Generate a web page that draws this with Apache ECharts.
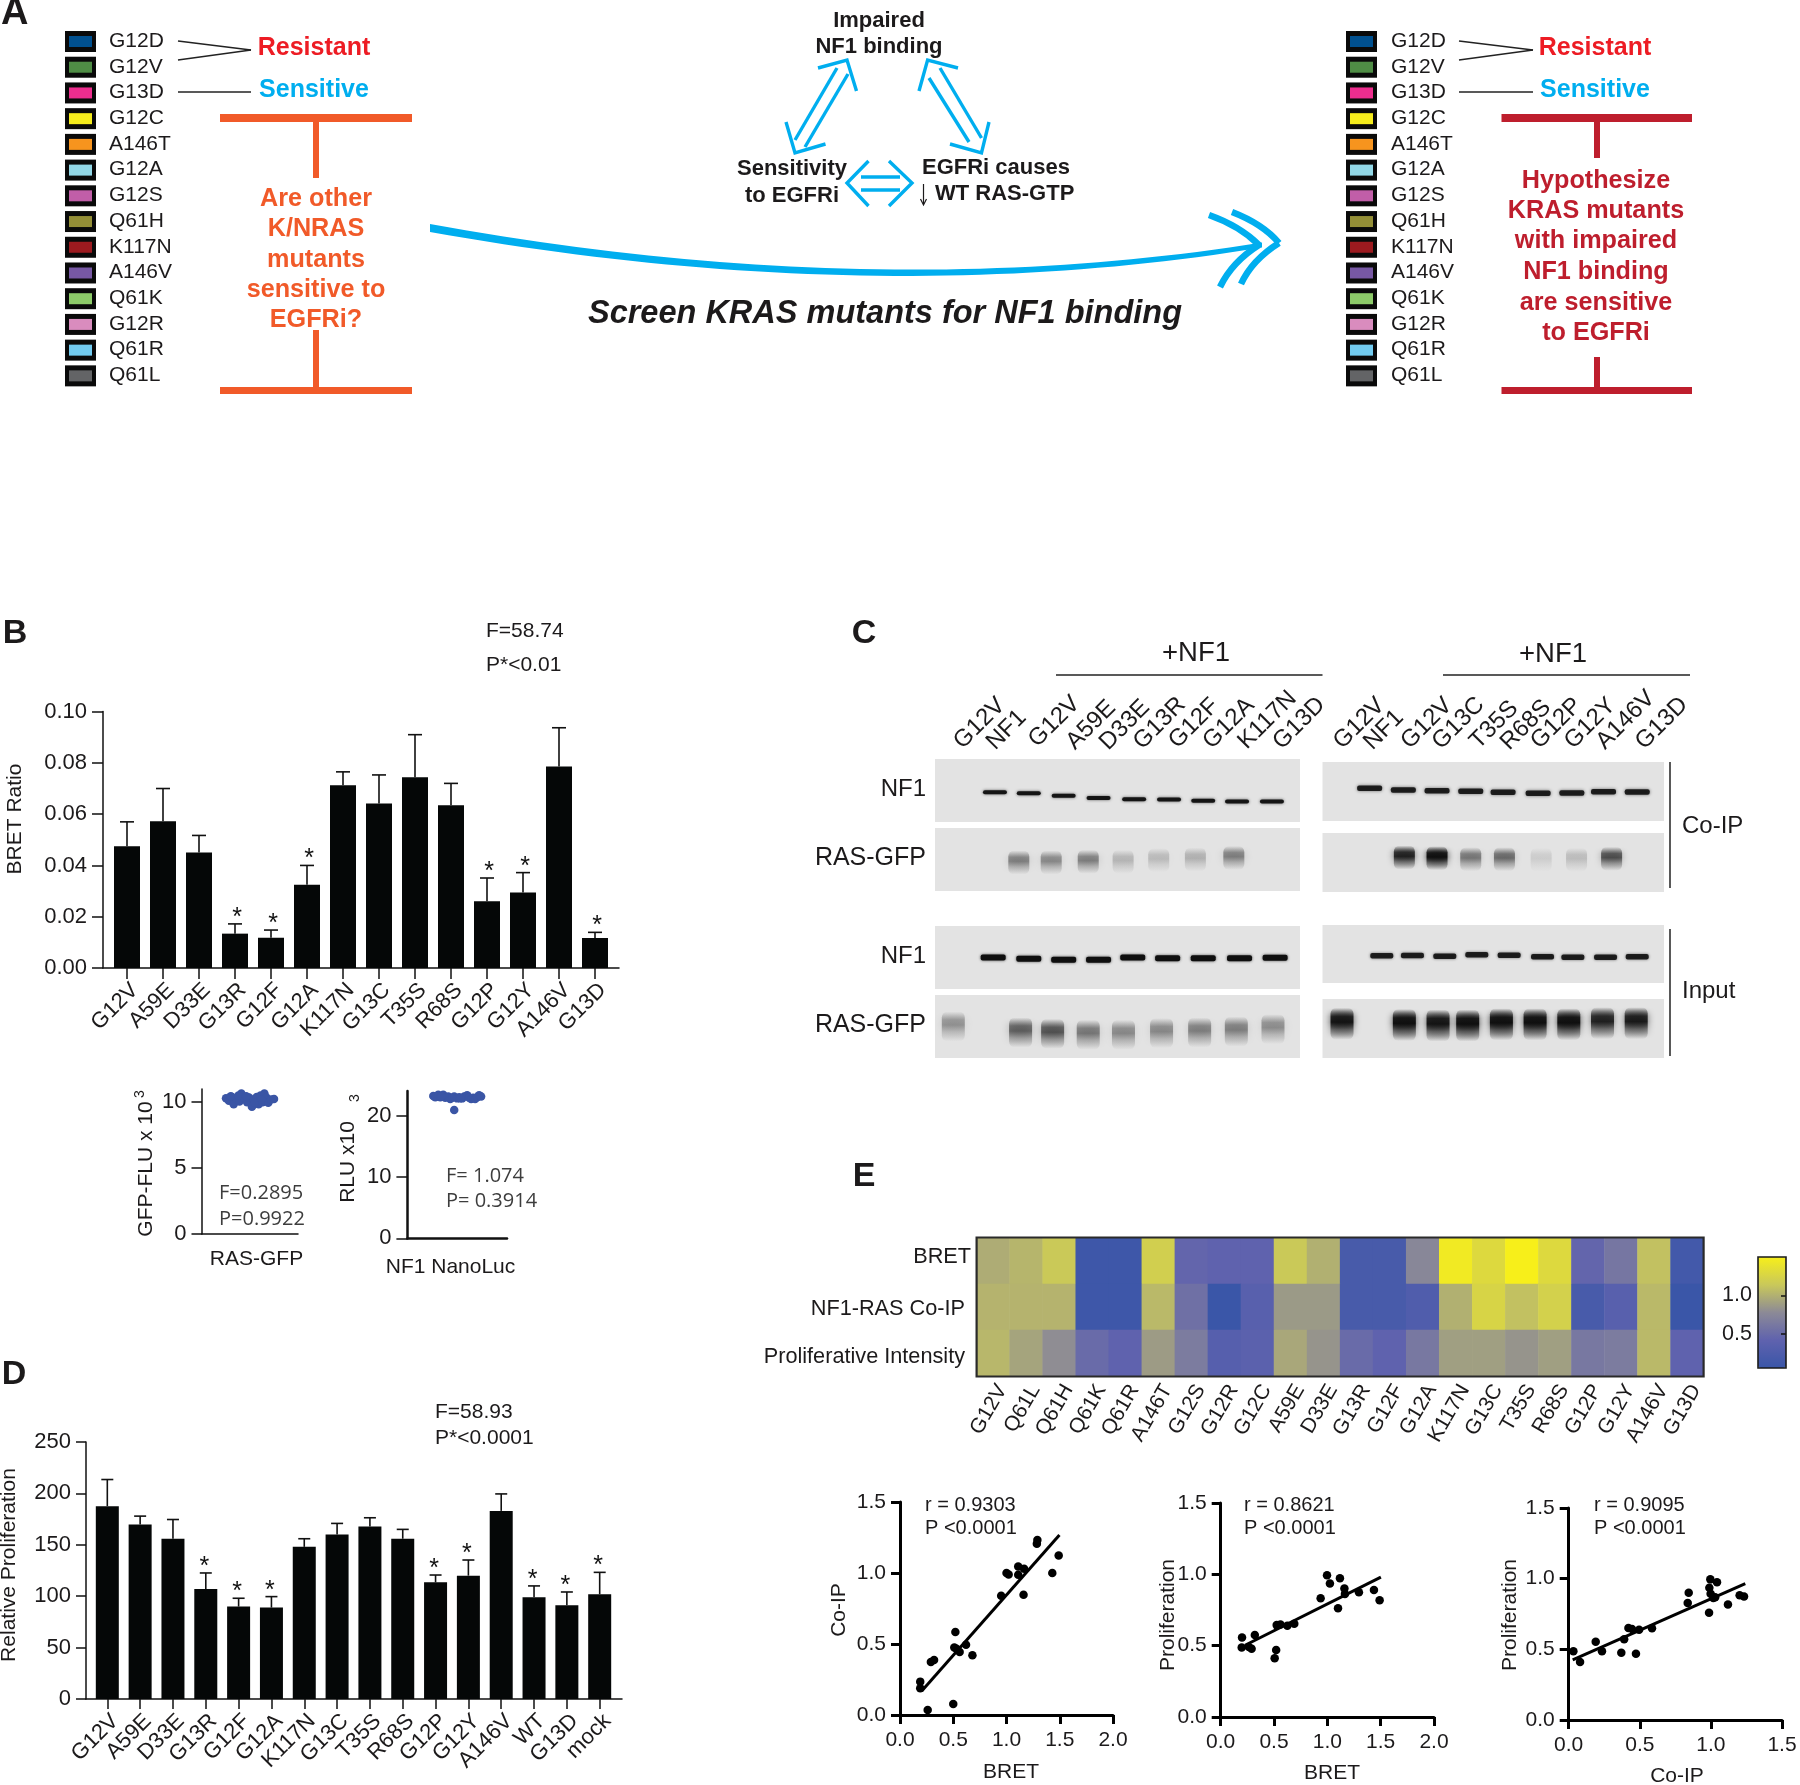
<!DOCTYPE html>
<html><head><meta charset="utf-8">
<script src="https://cdn.jsdelivr.net/npm/echarts@6/dist/echarts.min.js"></script>
<style>html,body{margin:0;padding:0;background:#fff}#c{width:1800px;height:1785px}</style>
</head><body><div id="c"></div>
<script>
// ---------- DATA ----------
const mutantNames=['G12D','G12V','G13D','G12C','A146T','G12A','G12S','Q61H','K117N','A146V','Q61K','G12R','Q61R','Q61L'];
const mutantColors=['#00508f','#4f8d45','#ee2d8e','#f5ec1c','#f7941e','#92d7e6','#c15ea8','#948f37','#9c1a1f','#7758a4','#8dcb69','#d98cbe','#72cbf0','#636466'];
const orangeLines=['Are other','K/NRAS','mutants','sensitive to','EGFRi?'];
const redLines=['Hypothesize','KRAS mutants','with impaired','NF1 binding','are sensitive','to EGFRi'];

const bretCats=['G12V','A59E','D33E','G13R','G12F','G12A','K117N','G13C','T35S','R68S','G12P','G12Y','A146V','G13D'];
const bretMean=[.0475,.0572,.045,.0134,.0118,.0325,.0713,.0642,.0744,.0635,.026,.0294,.0786,.0117];
const bretTop=[.057,.070,.0517,.0172,.0148,.040,.0765,.0753,.091,.072,.0351,.0372,.0937,.0139];
const bretStar=[0,0,0,1,1,1,0,0,0,0,1,1,0,1];

const gfpX=[25,28,31,33,36,39,41,44,47,49,52,54,57,59,61,63,65,67,69,72,75,30,38,46,55,62];
const gfpY=[10.3,10.1,10.4,9.85,10.25,10.05,10.65,10.3,10.0,10.35,9.65,10.2,10.4,9.85,10.5,10.0,10.65,10.35,9.95,10.2,10.25,10.45,10.5,10.45,9.95,10.2];
const nanoX=[26,28,31,33,36,38,41,43,45,47,47,50,52,55,57,60,62,64,66,68,70,72,74,34,53];
const nanoY=[23.2,23.0,23.4,23.0,23.4,22.9,23.1,22.7,22.9,23.1,20.9,22.8,23.0,22.8,23.1,23.3,22.9,22.7,22.9,22.7,23.0,23.3,23.1,23.1,22.8];

const prolifCats=['G12V','A59E','D33E','G13R','G12F','G12A','K117N','G13C','T35S','R68S','G12P','G12Y','A146V','WT','G13D','mock'];
const prolifMean=[187.6,169.8,155.9,107,89.9,88.9,148,160,167.9,155.9,113.5,120,183,99,91.2,101.9];
const prolifTop=[213.5,177.9,174.6,122.6,98,99.6,155.9,170.8,176.3,165,120.6,135.2,199.5,110,104.1,123.2];
const prolifStar=[0,0,0,1,1,1,0,0,0,0,1,1,0,1,1,1];

const heatCols=['G12V','Q61L','Q61H','Q61K','Q61R','A146T','G12S','G12R','G12C','A59E','D33E','G13R','G12F','G12A','K117N','G13C','T35S','R68S','G12P','G12Y','A146V','G13D'];
const heatRows=['BRET','NF1-RAS Co-IP','Proliferative Intensity'];
const heatBret=[.98,1.03,1.15,.1,.1,1.2,.45,.42,.42,1.15,1.0,.2,.2,.75,1.45,1.3,1.5,1.3,.45,.6,1.1,.15];
const heatCoip=[1.02,1.02,1.02,.1,.1,1.05,.55,.05,.35,.87,.87,.2,.2,.27,1.0,1.25,1.1,1.22,.2,.35,1.05,.05];
const heatProl=[1.04,.93,.8,.5,.42,.88,.65,.33,.38,.95,.84,.5,.42,.62,.9,.9,.84,.9,.62,.65,1.05,.42];

const s1X=[.19,.19,.26,.29,.32,.5,.52,.51,.53,.56,.62,.68,.95,1.0,1.02,1.11,1.11,1.165,1.16,1.285,1.29,1.43,1.49];
const s1Y=[.235,.188,.035,.374,.388,.078,.585,.475,.466,.444,.494,.42,.84,1.0,.99,1.046,.988,1.03,.846,1.206,1.232,1.0,1.124];
const s1Fit=[[.204,.169],[1.497,1.267]];
const s2X=[.2,.197,.265,.29,.32,.506,.52,.525,.56,.625,.69,.937,.997,1.024,1.118,1.10,1.16,1.165,1.296,1.437,1.49];
const s2Y=[.557,.487,.49,.478,.574,.412,.47,.644,.649,.639,.653,.832,.993,.935,.972,.762,.90,.862,.874,.89,.818];
const s2Fit=[[.228,.503],[1.502,.981]];
const s3X=[.033,.08,.19,.234,.37,.39,.42,.445,.473,.495,.586,.837,.844,.987,.996,.989,.998,1.017,1.043,1.03,1.12,1.202,1.233];
const s3Y=[.486,.41,.554,.486,.476,.571,.651,.644,.469,.639,.649,.828,.901,.759,.995,.936,.894,.863,.974,.868,.818,.882,.873];
const s3Fit=[[.028,.425],[1.242,.965]];

// blot bands: [lane, vertical position in panel 0-1, ink 0-1]
const blotLeftNf1Ip=[[1.17,.526,.95],[2.12,.542,.95],[3.1,.584,.95],[4.08,.621,.95],[5.08,.637,.95],[6.06,.642,.95],[7.02,.663,.95],[7.97,.674,.95],[8.95,.674,.95]];
const blotLeftRasIp=[[1.84,.547,.42],[2.75,.547,.38],[3.79,.537,.42],[4.77,.537,.2],[5.77,.51,.18],[6.8,.5,.22],[7.88,.475,.42]];
const blotLeftNf1In=[[1.12,.5,1],[2.12,.52,1],[3.1,.537,1],[4.08,.537,1],[5.04,.5,1],[6.02,.51,1],[7.02,.51,1],[8.04,.51,1],[9.04,.505,1]];
const blotLeftRasIn=[[0,.5,.34],[1.89,.595,.55],[2.79,.616,.6],[3.79,.632,.45],[4.78,.632,.38],[5.85,.605,.38],[6.92,.595,.42],[7.95,.58,.42],[8.98,.542,.36]];
const blotRightNf1Ip=[[.82,.446,.9],[1.82,.474,.9],[2.82,.486,.9],[3.82,.497,.9],[4.78,.514,.9],[5.82,.531,.9],[6.82,.526,.9],[7.76,.503,.9],[8.76,.509,.9]];
const blotRightRasIp=[[1.85,.416,.85],[2.82,.427,1],[3.82,.444,.45],[4.82,.444,.5],[5.91,.455,.1],[6.96,.455,.17],[8,.438,.62]];
const blotRightNf1In=[[1.18,.531,.9],[2.09,.526,.9],[3.05,.537,.9],[4,.514,.9],[4.96,.52,.9],[5.95,.549,.9],[6.85,.554,.9],[7.82,.554,.9],[8.76,.549,.9]];
const blotRightRasIn=[[0,.42,.95],[1.85,.44,1],[2.85,.45,.95],[3.73,.45,1],[4.73,.43,1],[5.73,.43,1],[6.73,.43,1],[7.73,.41,.85],[8.73,.41,.9]];
const blotLabelsLeft=['G12V','NF1','G12V','A59E','D33E','G13R','G12F','G12A','K117N','G13D'];
const blotLabelsRight=['G12V','NF1','G12V','G13C','T35S','R68S','G12P','G12Y','A146V','G13D'];

// ---------- HELPERS ----------
const FF='"Liberation Sans"',INK='#1c1a1b',BLUE='#00aeef';
const g=[],grid=[],xAxis=[],yAxis=[],series=[];
function T(x,y,text,size,o={}){g.push({type:'text',x,y,rotation:o.rot||0,silent:true,z:o.z||50,style:{text,
  font:`${o.bold?'bold ':''}${o.italic?'italic ':''}${size}px ${o.ff||FF}`,fill:o.fill||INK,textAlign:o.align||'left',textVerticalAlign:'middle'}});}
function L(x1,y1,x2,y2,c,w){g.push({type:'line',silent:true,z:40,shape:{x1,y1,x2,y2},style:{stroke:c,lineWidth:w}});}
function R(x,y,w,h,c,st){g.push({type:'rect',silent:true,z:st?60:40,shape:{x,y,width:w,height:h},style:st?{fill:'none',stroke:c,lineWidth:st}:{fill:c}});}
function Pl(pts,c,w){g.push({type:'polyline',silent:true,z:40,shape:{points:pts},style:{stroke:c,lineWidth:w,fill:'none'}});}
function Q(a,c,b,col,w){g.push({type:'bezierCurve',silent:true,z:40,shape:{x1:a[0],y1:a[1],cpx1:c[0],cpy1:c[1],x2:b[0],y2:b[1]},style:{stroke:col,lineWidth:w,fill:'none'}});}
function taper(a,c,b,w0,w1,col){const top=[],bot=[];for(let i=0;i<=48;i++){const t=i/48,u=1-t;
  const x=u*u*a[0]+2*u*t*c[0]+t*t*b[0],y=u*u*a[1]+2*u*t*c[1]+t*t*b[1],h=(w0+(w1-w0)*t)/2;top.push([x,y-h]);bot.unshift([x,y+h]);}
  g.push({type:'polygon',silent:true,z:40,shape:{points:top.concat(bot)},style:{fill:col}});}
function addGrid(l,t,w,h,extra){grid.push(Object.assign({left:l,top:t,width:w,height:h,show:false},extra||{}));return grid.length-1;}

// Panel A legends
function legend(xs,xt,xl1,xl2,xr){
  mutantNames.forEach((n,i)=>{const y=31+i*25.72;
    R(xs,y,31,21,'#0a0a0a');R(xs+4,y+5,23,11,mutantColors[i]);T(xt,y+10,n,21);});
  L(xl1,41,xl2,50,'#222',1.6);L(xl1,60,xl2,50,'#222',1.6);L(xl1,92,xl2,92,'#222',1.6);
  T(xr,48,'Resistant',25,{bold:true,fill:'#ed1c24',align:'center'});
  T(xr,90,'Sensitive',25,{bold:true,fill:BLUE,align:'center'});
}
legend(65,109,178,251,314);
legend(1346,1391,1459,1533,1595);
function tee(x1,x2,xc,c,v1,v2){R(x1,114,x2-x1,8,c);R(xc-3,122,6,v1-122,c);R(xc-3,v2,6,387-v2,c);R(x1,387,x2-x1,7,c);}
tee(220,412,316,'#f15a29',178,330);
tee(1501.5,1692,1597,'#be1e2d',158,357);
orangeLines.forEach((s,i)=>T(316,[199,229,260,290,320][i],s,25.2,{bold:true,fill:'#f15a29',align:'center'}));
redLines.forEach((s,i)=>T(1596,[181,211,241,272,303,333][i],s,25.2,{bold:true,fill:'#be1e2d',align:'center'}));
T(1,14,'A',38,{bold:true});
T(879,21,'Impaired',22,{bold:true,align:'center'});
T(879,47,'NF1 binding',22,{bold:true,align:'center'});
T(792,169,'Sensitivity',22,{bold:true,align:'center'});
T(792,196,'to EGFRi',22,{bold:true,align:'center'});
T(922,168,'EGFRi causes',22,{bold:true});
T(935,194,'WT RAS-GTP',22,{bold:true});
L(923.5,184,923.5,204,INK,1.2);Pl([[920.5,199],[923.5,205],[926.5,199]],INK,1.2);
[ [[818,68],[847,60],[856.5,91]], [[786,122],[795,153],[825.5,144]], [[958,68],[927.6,60],[919,91]], [[950,144],[981.5,153],[989,122]],
  [[868.5,161],[847,183],[868.5,206]], [[889,161],[912,183],[889,206]] ].forEach(p=>Pl(p,BLUE,3.4));
[[837,68,795,140],[848,74,805,147],[929,78,969,142],[940,68,981.5,138],[861,177,900,177],[861,190,900,190]].forEach(a=>L(a[0],a[1],a[2],a[3],BLUE,3.4));
taper([430,228],[874,308],[1262,245],8,5,BLUE);
Q([1209,215],[1240,226],[1259,245],BLUE,6.5);
Q([1259,245],[1232,262],[1220,287],BLUE,6.5);
Q([1232,212],[1263,224],[1279,243],BLUE,6.5);
Q([1279,243],[1252,260],[1241,284],BLUE,6.5);
T(885,314,'Screen KRAS mutants for NF1 binding',32.5,{bold:true,italic:true,align:'center'});

// Bar panels: frame grid (y axis + baseline) + data grid (bars, ticks, labels)
function barPanel(o){
  const fi=addGrid(o.frameL,o.top,o.frameR-o.frameL,o.h);
  xAxis.push({gridIndex:fi,type:'value',min:0,max:1,axisLine:{lineStyle:{color:'#111',width:1.5}},axisTick:{show:false},axisLabel:{show:false},splitLine:{show:false}});
  yAxis.push({gridIndex:fi,type:'value',min:0,max:o.max,interval:o.interval,axisLine:{show:true,lineStyle:{color:'#111',width:1.5}},
    axisTick:{show:true,length:o.tick,lineStyle:{color:'#111',width:1.5}},splitLine:{show:false},
    axisLabel:{fontSize:22,color:INK,margin:o.tick+5,formatter:o.fmt}});
  const di=addGrid(o.dataL,o.top,o.dataW,o.h);
  xAxis.push({gridIndex:di,type:'category',data:o.cats,axisLine:{show:false},axisTick:{show:true,alignWithLabel:true,length:o.tick,lineStyle:{color:'#111',width:1.5}},
    axisLabel:{interval:0,rotate:45,verticalAlign:'top',fontSize:22,color:INK,margin:o.labelMargin}});
  yAxis.push({gridIndex:di,type:'value',min:0,max:o.max,show:false});
  const idx=xAxis.length-1;
  series.push({type:'bar',xAxisIndex:idx,yAxisIndex:idx,data:o.mean,barWidth:o.bw,itemStyle:{color:'#050707'},silent:true,z:3});
  series.push({type:'custom',xAxisIndex:idx,yAxisIndex:idx,silent:true,z:4,data:o.mean.map((m,i)=>[i,o.top2[i],m,o.star[i]]),
    renderItem(p,api){
      const a=api.coord([api.value(0),api.value(1)]),b=api.coord([api.value(0),api.value(2)]);
      const st={stroke:'#111',lineWidth:1.6};
      const ch=[{type:'line',shape:{x1:a[0],y1:a[1],x2:b[0],y2:b[1]},style:st},
                {type:'line',shape:{x1:a[0]-o.cap,y1:a[1],x2:a[0]+o.cap,y2:a[1]},style:st}];
      if(api.value(3))ch.push({type:'text',x:a[0]+o.starDx,y:a[1]-o.starDy,style:{text:'*',font:'25px '+FF,fill:'#111',textAlign:'center',textVerticalAlign:'middle'}});
      return {type:'group',children:ch};
    }});
}
barPanel({frameL:103,frameR:619,dataL:109,dataW:504,top:711.6,h:256.4,max:.1,interval:.02,tick:11,fmt:v=>v.toFixed(2),cats:bretCats,mean:bretMean,top2:bretTop,star:bretStar,bw:26,cap:7,starDx:2,starDy:6,labelMargin:11});
barPanel({frameL:86,frameR:622,dataL:90.9,dataW:525.2,top:1442,h:257,max:250,interval:50,tick:10,fmt:v=>String(v),cats:prolifCats,mean:prolifMean,top2:prolifTop,star:prolifStar,bw:23,cap:6,starDx:-1.5,starDy:6,labelMargin:11});
T(15,634,'B',34,{bold:true,align:'center'});
T(486,631,'F=58.74',21);T(486,665,'P*<0.01',21);
T(15,819,'BRET Ratio',21,{rot:Math.PI/2,align:'center'});
T(14,1375,'D',34,{bold:true,align:'center'});
T(435,1412,'F=58.93',21);T(435,1438,'P*<0.0001',21);
T(9,1565,'Relative Proliferation',21,{rot:Math.PI/2,align:'center'});

// Swarm panels
function swarm(o){
  const i=addGrid(o.l,o.t,o.w,o.h);
  xAxis.push({gridIndex:i,type:'value',min:0,max:100,axisLine:{lineStyle:{color:'#111',width:o.lw}},axisTick:{show:false},axisLabel:{show:false},splitLine:{show:false}});
  yAxis.push({gridIndex:i,type:'value',min:0,max:o.max,axisLine:{show:true,lineStyle:{color:'#111',width:o.lw}},
    axisTick:{show:true,length:o.tick,lineStyle:{color:'#111',width:1.5},customValues:o.ticks},
    axisLabel:{fontSize:22,color:INK,margin:o.tick+5,customValues:o.ticks},splitLine:{show:false}});
  series.push({type:'scatter',xAxisIndex:i,yAxisIndex:i,silent:true,symbolSize:8.5,itemStyle:{color:'#3a55a5',opacity:1},data:o.x.map((v,k)=>[v,o.y[k]])});
}
swarm({l:202,t:1089,w:96,h:145,max:11,ticks:[0,5,10],tick:10.5,lw:1.5,x:gfpX,y:gfpY});
swarm({l:407.4,t:1091,w:99.6,h:147.4,max:24,ticks:[0,10,20],tick:11,lw:2.5,x:nanoX,y:nanoY});
const OS='"Open Sans"';
T(219,1193,'F=0.2895',20,{ff:OS,fill:'#3d3d3d'});T(219,1219,'P=0.9922',20,{ff:OS,fill:'#3d3d3d'});
T(446,1176,'F= 1.074',20,{ff:OS,fill:'#3d3d3d'});T(446,1201,'P= 0.3914',20,{ff:OS,fill:'#3d3d3d'});
T(256.5,1259.5,'RAS-GFP',21,{align:'center'});
T(450.5,1267,'NF1 NanoLuc',21,{align:'center'});
T(146,1169,'GFP-FLU x 10',21,{rot:Math.PI/2,align:'center'});T(140,1094,'3',14,{rot:Math.PI/2,align:'center'});
T(348,1162,'RLU x10',21,{rot:Math.PI/2,align:'center'});T(355,1098,'3',14,{rot:Math.PI/2,align:'center'});

// Blots
function blot(l,t,w,h,x0,dx,bands,bw,bh,blur,smear){
  const i=addGrid(l,t,w,h,{show:true,backgroundColor:'#e3e3e3',borderWidth:0});
  xAxis.push({gridIndex:i,type:'value',show:false,min:(l-x0)/dx,max:(l+w-x0)/dx});
  yAxis.push({gridIndex:i,type:'value',show:false,min:0,max:1,inverse:true});
  series.push({type:'custom',xAxisIndex:i,yAxisIndex:i,silent:true,data:bands,renderItem(p,api){
    const c=api.coord([api.value(0),api.value(1)]),ink=api.value(2);
    const col=a=>`rgba(15,15,15,${a})`;
    const fill=smear?{type:'linear',x:0,y:0,x2:0,y2:1,colorStops:[{offset:0,color:col(0)},{offset:.28,color:col(ink*.9)},{offset:.45,color:col(ink)},{offset:.68,color:col(ink*.5)},{offset:1,color:col(0)}]}:col(ink);
    return {type:'rect',shape:{x:c[0]-bw/2,y:c[1]-bh/2,width:bw,height:bh,r:smear?6:2},style:{fill,shadowBlur:blur,shadowColor:col(ink*.7)}};
  }});
}
const LX0=953.3,LDX=35.6,RX0=1342,RDX=33.7;
blot(935,759,365,63,LX0,LDX,blotLeftNf1Ip,24,4,3,false);
blot(935,828,365,63,LX0,LDX,blotLeftRasIp,21,24,8,true);
blot(935,926,365,63,LX0,LDX,blotLeftNf1In,25,6,3,false);
blot(935,995,365,63,LX0,LDX,blotLeftRasIn,23,30,8,true);
blot(1322.5,762,341.5,59,RX0,RDX,blotRightNf1Ip,25,5.5,3.5,false);
blot(1322.5,833,341.5,59,RX0,RDX,blotRightRasIp,21,24,7,true);
blot(1322.5,925,341.5,58,RX0,RDX,blotRightNf1In,23,5.5,3,false);
blot(1322.5,999,341.5,59,RX0,RDX,blotRightRasIn,23,32,7,true);
T(864,634,'C',34,{bold:true,align:'center'});
T(1196,653,'+NF1',27.5,{align:'center'});L(1056,675,1322.5,675,'#222',1.6);
T(1553,654,'+NF1',27.5,{align:'center'});L(1443,675,1690,675,'#222',1.6);
[228,272,350,410,465,522,578,635,698,750].forEach((x,i)=>T(840+x/1.633,610+[340,360,335,345,345,340,340,340,330,340][i]/3,blotLabelsLeft[i],24,{rot:Math.PI/4,align:'center'}));
[848,888,958,1010,1068,1120,1170,1225,1283,1342].forEach((x,i)=>T(840+x/1.633,610+[340,360,340,340,345,345,340,340,330,340][i]/3,blotLabelsRight[i],24,{rot:Math.PI/4,align:'center'}));
[['NF1',789],['RAS-GFP',858],['NF1',956],['RAS-GFP',1025]].forEach(a=>T(926,a[1],a[0],a[0]==='NF1'?24:25,{align:'right'}));
T(1682,826,'Co-IP',24);T(1682,991,'Input',24);
L(1670,762,1670,888,'#222',1.5);L(1670,929,1670,1056,'#222',1.5);

// Heatmap
const hi=addGrid(976.6,1238,727,138);
xAxis.push({gridIndex:hi,type:'category',data:heatCols,axisLine:{show:false},axisTick:{show:false},splitLine:{show:false},axisLabel:{interval:0,rotate:60,verticalAlign:'top',fontSize:21,color:INK,margin:5}});
yAxis.push({gridIndex:hi,type:'category',data:heatRows,inverse:true,axisLine:{show:false},axisTick:{show:false},splitLine:{show:false},axisLabel:{show:false}});
const heatData=[];[heatBret,heatCoip,heatProl].forEach((r,j)=>r.forEach((v,i)=>heatData.push([i,j,v])));
series.push({type:'heatmap',xAxisIndex:hi,yAxisIndex:hi,silent:true,data:heatData,itemStyle:{borderWidth:0},progressive:0,emphasis:{disabled:true}});
const heatSeriesIndex=series.length-1;
heatRows.forEach((s,i)=>T([971,965,965][i],[1257,1309,1357][i],s,21.7,{align:'right'}));
R(976.6,1237.5,727,139,'#2a2a2a',2.2);
T(864,1177,'E',34,{bold:true,align:'center'});
const cbi=addGrid(1758,1257,28,111);
xAxis.push({gridIndex:cbi,type:'value',show:false,min:0,max:1});
yAxis.push({gridIndex:cbi,type:'value',min:.06,max:1.5,axisLine:{show:false},splitLine:{show:false},axisTick:{show:false},
  axisLabel:{fontSize:21.5,color:INK,margin:6,customValues:[.5,1],formatter:v=>v.toFixed(1)}});
R(1758,1257,28,111,'#1a1a1a',1.6);
L(1781,1296,1786,1296,'#111',1.5);L(1781,1334,1786,1334,'#111',1.5);

// Scatter panels
function scat(l,t,w,h,xmax,xs,ys,fit){
  const i=addGrid(l,t,w,h);
  const ax=(extra)=>Object.assign({gridIndex:i,type:'value',min:0,interval:.5,axisLine:{show:true,lineStyle:{color:'#000',width:3}},
    axisTick:{show:true,length:9,lineStyle:{color:'#000',width:3}},splitLine:{show:false}},extra);
  xAxis.push(ax({max:xmax,axisLabel:{fontSize:21,color:INK,margin:15,formatter:v=>v.toFixed(1)}}));
  yAxis.push(ax({max:1.5,axisLabel:{fontSize:21,color:INK,margin:14,formatter:v=>v.toFixed(1)}}));
  series.push({type:'line',xAxisIndex:i,yAxisIndex:i,silent:true,data:fit,showSymbol:false,lineStyle:{color:'#000',width:3},z:2});
  series.push({type:'scatter',xAxisIndex:i,yAxisIndex:i,silent:true,symbolSize:8.5,itemStyle:{color:'#000',opacity:1},data:xs.map((v,k)=>[v,ys[k]]),z:3});
}
scat(900,1502,213,213,2,s1X,s1Y,s1Fit);
scat(1220.7,1503,213.3,214,2,s2X,s2Y,s2Fit);
scat(1568.7,1508,213.3,212,1.5,s3X,s3Y,s3Fit);
T(925,1505,'r = 0.9303',20);T(925,1528,'P <0.0001',20);
T(1244,1505,'r = 0.8621',20);T(1244,1528,'P <0.0001',20);
T(1594,1505,'r = 0.9095',20);T(1594,1528,'P <0.0001',20);
T(1011,1772,'BRET',21,{align:'center'});T(1332,1773,'BRET',21,{align:'center'});T(1677,1776,'Co-IP',21,{align:'center'});
T(839,1610,'Co-IP',21,{rot:Math.PI/2,align:'center'});
T(1168,1615,'Proliferation',21,{rot:Math.PI/2,align:'center'});
T(1510,1615,'Proliferation',21,{rot:Math.PI/2,align:'center'});

const chart=echarts.init(document.getElementById('c'),null,{renderer:'canvas',width:1800,height:1785});
chart.setOption({animation:false,backgroundColor:'#fff',textStyle:{fontFamily:'Liberation Sans'},
  tooltip:{show:false},grid,xAxis,yAxis,series,graphic:g,
  visualMap:[{type:'continuous',seriesIndex:heatSeriesIndex,min:.06,max:1.5,left:1758,top:1257,itemWidth:28,itemHeight:111,padding:0,
    calculable:false,realtime:false,text:['',''],textGap:0,inRange:{color:['#3a56a8','#5f62ae','#8c8a96','#c9c85a','#f7ef1a']},hoverLink:false}]});
</script></body></html>
